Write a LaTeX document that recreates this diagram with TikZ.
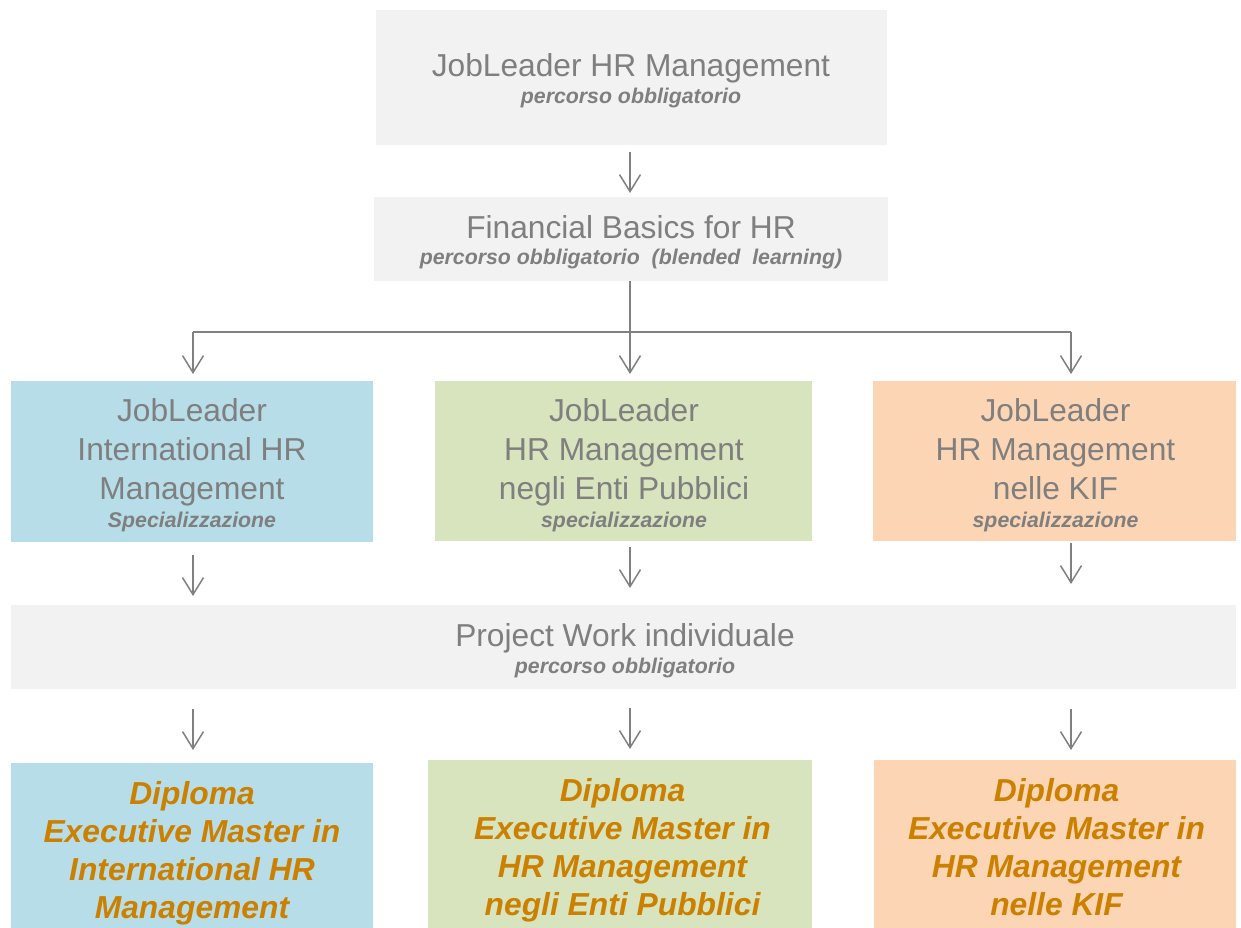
\documentclass[tikz,border=0pt]{standalone}
\usepackage{fontspec}
\setmainfont{Liberation Sans}
\usetikzlibrary{arrows.meta}
\definecolor{boxgray}{HTML}{F2F2F2}
\definecolor{boxblue}{HTML}{B7DDE8}
\definecolor{boxgreen}{HTML}{D7E4BD}
\definecolor{boxorange}{HTML}{FCD5B5}
\definecolor{txtgray}{HTML}{7F7F7F}
\definecolor{linegray}{HTML}{808080}
\definecolor{diporange}{RGB}{204,128,0}
\newcommand{\subf}{\bfseries\itshape\fontsize{21.3}{26}\selectfont}
\begin{document}
\begin{tikzpicture}[x=1pt,y=-1pt,
  box/.style={inner sep=0pt, outer sep=0pt, draw=none},
  ttext/.style={anchor=base, align=center, inner sep=0pt, text=txtgray, font=\fontsize{31.7}{39}\selectfont},
  dtext/.style={anchor=base, align=center, inner sep=0pt, text=diporange, font=\bfseries\itshape\fontsize{31.8}{38}\selectfont},
  conn/.style={draw=linegray, line width=1.5pt},
  arr/.style={conn, -{Straight Barb[length=17pt,width=21pt,line width=1.5pt]}}
]
\useasboundingbox (0,0) rectangle (1241,928);

% boxes
\node[box, fill=boxgray, minimum width=511pt, minimum height=135pt] (top) at (631.5,77.5) {};
\node[box, fill=boxgray, minimum width=514pt, minimum height=84pt] (fin) at (631,239) {};
\node[box, fill=boxblue, minimum width=362pt, minimum height=161pt] (blue) at (192,461.5) {};
\node[box, fill=boxgreen, minimum width=377pt, minimum height=160pt] (green) at (623.5,461) {};
\node[box, fill=boxorange, minimum width=363pt, minimum height=160pt] (orange) at (1054.5,461) {};
\node[box, fill=boxgray, minimum width=1225pt, minimum height=84pt] (proj) at (623.5,647) {};
\node[box, fill=boxblue, minimum width=362pt, minimum height=165pt] (dblue) at (192,845.5) {};
\node[box, fill=boxgreen, minimum width=384pt, minimum height=168pt] (dgreen) at (620,844) {};
\node[box, fill=boxorange, minimum width=362pt, minimum height=168pt] (dorange) at (1055,844) {};

% texts (anchor = baseline of the last line)
\node[ttext] (toptxt) at (631,104) {JobLeader HR Management\\[-12pt]{\subf percorso obbligatorio}};
\node[ttext] (fintxt) at (631,264) {Financial Basics for HR\\[-13pt]{\subf percorso obbligatorio\ \ (blended\ \ learning)}};
\node[ttext] (bluetxt) at (192,527) {JobLeader\\International HR\\Management\\[-11pt]{\subf Specializzazione}};
\node[ttext] (greentxt) at (624,527) {JobLeader\\HR Management\\negli Enti Pubblici\\[-11pt]{\subf specializzazione}};
\node[ttext] (orangetxt) at (1055.5,527) {JobLeader\\HR Management\\nelle KIF\\[-11pt]{\subf specializzazione}};
\node[ttext] (projtxt) at (625,673) {Project Work individuale\\[-12pt]{\subf percorso obbligatorio}};
\node[dtext] (dbluetxt) at (192,918) {Diploma\\Executive Master in\\International HR\\Management};
\node[dtext] (dgreentxt) at (622.5,915) {Diploma\\Executive Master in\\HR Management\\negli Enti Pubblici};
\node[dtext] (dorangetxt) at (1056.5,915) {Diploma\\Executive Master in\\HR Management\\nelle KIF};

% connectors
\coordinate (jc) at (630,332);
\coordinate (jl) at (193,332);
\coordinate (jr) at (1071,332);

\draw[arr, shorten <=7pt, shorten >=4pt] (top.south -| jc) -- (fin.north -| jc);
\draw[conn] (fin.south -| jc) -- (jc);
\draw[conn] (jl) -- (jr);
\draw[arr, shorten >=7pt] (jl) -- (jl |- blue.north);
\draw[arr, shorten >=7pt] (jc) -- (jc |- green.north);
\draw[arr, shorten >=7pt] (jr) -- (jr |- orange.north);

\draw[arr, shorten <=13pt, shorten >=9pt] (blue.south -| jl) -- (proj.north -| jl);
\draw[arr, shorten <=6pt, shorten >=17pt] (green.south -| jc) -- (proj.north -| jc);
\draw[arr, shorten <=2pt, shorten >=21pt] (orange.south -| jr) -- (proj.north -| jr);

\draw[arr, shorten <=20pt, shorten >=13pt] (proj.south -| jl) -- (dblue.north -| jl);
\draw[arr, shorten <=19pt, shorten >=11pt] (proj.south -| jc) -- (dgreen.north -| jc);
\draw[arr, shorten <=20pt, shorten >=10pt] (proj.south -| jr) -- (dorange.north -| jr);
\end{tikzpicture}
\end{document}
